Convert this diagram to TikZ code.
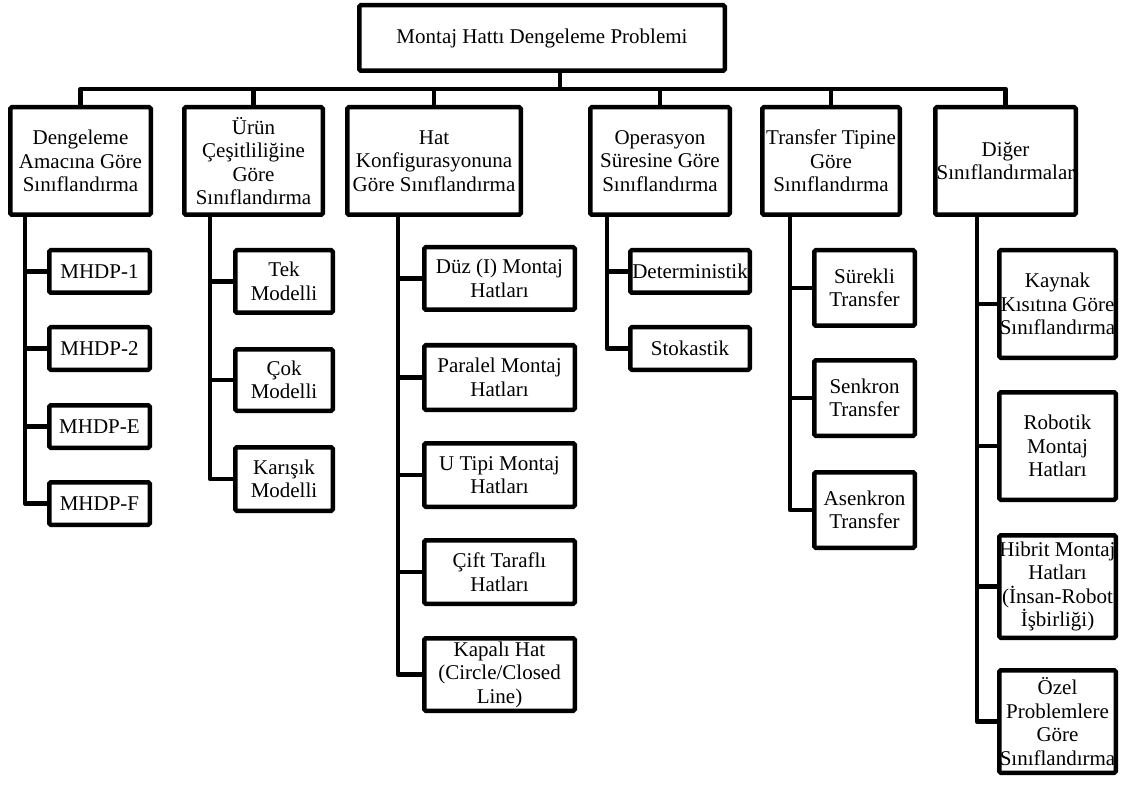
\documentclass[tikz,border=0pt]{standalone}
\usepackage{fontspec}
\setmainfont{Liberation Serif}
\begin{document}
\begin{tikzpicture}[x=1pt,y=-1pt,
  box/.style={draw=black,line width=4.5pt,rounded corners=1.5pt,fill=white,inner sep=0pt,align=center,
    font=\fontsize{21}{23.5}\selectfont},
  conn/.style={draw=black,line width=4.5pt,line join=round}]
\useasboundingbox (0,0) rectangle (1121,791);
% box macro: name, x1, x2, y1, y2, text
\newcommand\bx[6]{\node[box,minimum width={#3-#2-4.5pt},minimum height={#5-#4-4.5pt}] (#1) at ({(#2+#3)/2},{(#4+#5)/2}) {#6};}
% root and level 1
\bx{root}{357}{727}{3}{73}{Montaj Hattı Dengeleme Problemi}
\bx{b1}{8}{153}{105}{217}{Dengeleme\\Amacına Göre\\Sınıflandırma}
\bx{b2}{182}{325}{105}{217}{Ürün\\Çeşitliliğine\\Göre\\Sınıflandırma}
\bx{b3}{345}{523}{105}{217}{Hat\\Konfigurasyonuna\\Göre Sınıflandırma}
\bx{b4}{588}{732}{105}{217}{Operasyon\\Süresine Göre\\Sınıflandırma}
\bx{b5}{760}{902}{105}{217}{Transfer Tipine\\Göre\\Sınıflandırma}
\bx{b6}{933}{1078}{105}{217}{Diğer\\Sınıflandırmalar}
% level 2
\bx{m1}{47}{152}{248}{295}{MHDP-1}
\bx{m2}{47}{152}{325}{372}{MHDP-2}
\bx{mE}{47}{152}{403}{450}{MHDP-E}
\bx{mF}{47}{152}{480}{527}{MHDP-F}
\bx{tek}{233}{335}{248}{315}{Tek\\Modelli}
\bx{cok}{233}{335}{347}{413}{Çok\\Modelli}
\bx{kar}{233}{335}{445}{513}{Karışık\\Modelli}
\bx{duz}{422}{577}{245}{312}{Düz (I) Montaj\\Hatları}
\bx{par}{422}{577}{343}{412}{Paralel Montaj\\Hatları}
\bx{utip}{422}{577}{441}{509}{U Tipi Montaj\\Hatları}
\bx{cift}{422}{577}{538}{606}{Çift Taraflı\\Hatları}
\bx{kap}{422}{577}{636}{713}{Kapalı Hat\\(Circle/Closed\\Line)}
\bx{det}{628}{752}{248}{295}{Deterministik}
\bx{sto}{628}{752}{325}{372}{Stokastik}
\bx{sur}{812}{917}{248}{328}{Sürekli\\Transfer}
\bx{sen}{812}{917}{358}{438}{Senkron\\Transfer}
\bx{ase}{812}{917}{470}{550}{Asenkron\\Transfer}
\bx{kay}{997}{1118}{248}{360}{Kaynak\\Kısıtına Göre\\Sınıflandırma}
\bx{rob}{997}{1118}{390}{502}{Robotik\\Montaj\\Hatları}
\bx{hib}{997}{1118}{533}{640}{Hibrit Montaj\\Hatları\\(İnsan-Robot\\İşbirliği)}
\bx{oz}{997}{1118}{668}{775}{Özel\\Problemlere\\Göre\\Sınıflandırma}
% bus
\coordinate (bus) at (560,89);
\draw[conn] (root.south -| bus) -- (bus);
\foreach \b in {b1,b2,b3,b4,b5,b6} {\draw[conn] (\b.north) |- (bus);}
% trunks
\coordinate (t1) at (25,0);
\coordinate (t2) at (210,0);
\coordinate (t3) at (398,0);
\coordinate (t4) at (607,0);
\coordinate (t5) at (790,0);
\coordinate (t6) at (977,0);
\draw[conn] (b1.south -| t1) |- (mF.west);
\foreach \c in {m1,m2,mE} {\draw[conn] (\c.west -| t1) -- (\c.west);}
\draw[conn] (b2.south -| t2) |- (kar.west);
\foreach \c in {tek,cok} {\draw[conn] (\c.west -| t2) -- (\c.west);}
\draw[conn] (b3.south -| t3) |- (kap.west);
\foreach \c in {duz,par,utip,cift} {\draw[conn] (\c.west -| t3) -- (\c.west);}
\draw[conn] (b4.south -| t4) |- (sto.west);
\foreach \c in {det} {\draw[conn] (\c.west -| t4) -- (\c.west);}
\draw[conn] (b5.south -| t5) |- (ase.west);
\foreach \c in {sur,sen} {\draw[conn] (\c.west -| t5) -- (\c.west);}
\draw[conn] (b6.south -| t6) |- (oz.west);
\foreach \c in {kay,rob,hib} {\draw[conn] (\c.west -| t6) -- (\c.west);}
\end{tikzpicture}
\end{document}
